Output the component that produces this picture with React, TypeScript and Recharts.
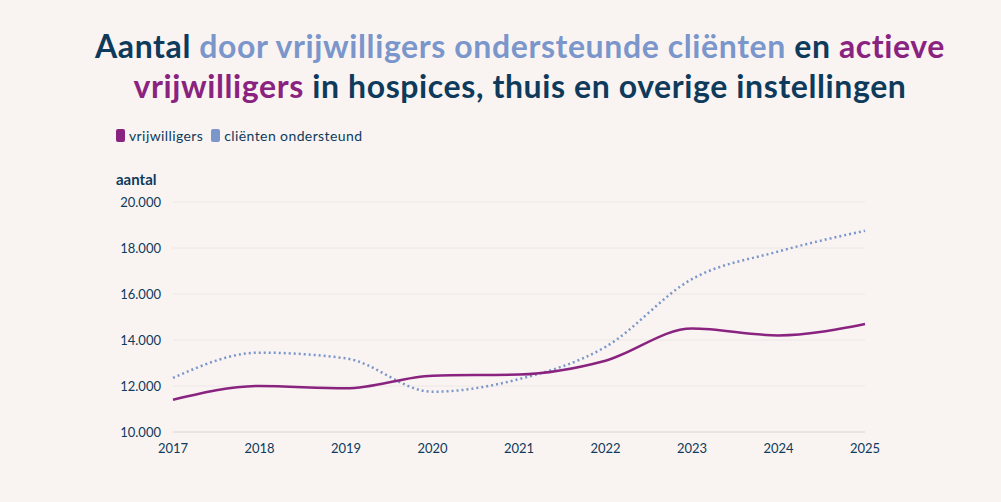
import { CartesianGrid, Line, LineChart, XAxis, YAxis } from 'recharts'

const NAVY = '#0e3a5c'
const BLUE = '#7b96cb'
const PURPLE = '#8a2380'
const BG = '#f9f4f2'
const FONT = 'Lato, "Open Sans", sans-serif'

const years = ['2017', '2018', '2019', '2020', '2021', '2022', '2023', '2024', '2025']
const vrijwilligers = [11400, 12000, 11900, 12450, 12500, 13100, 14500, 14200, 14700]
const clienten = [12350, 13450, 13200, 11750, 12300, 13700, 16650, 17850, 18750]
const yTicks = [10000, 12000, 14000, 16000, 18000, 20000]

const data = years.map((year, i) => ({
  year,
  vrijwilligers: vrijwilligers[i],
  clienten: clienten[i],
}))

const label = (v: number) => `${Math.floor(v / 1000)}.${String(v % 1000).padStart(3, '0')}`

export default function App() {
  return (
    <div style={{ position: 'absolute', left: 0, top: 0, width: 1001, height: 502, background: BG, fontFamily: FONT }}>
      <div
        style={{
          position: 'absolute', left: 20, width: 1000, top: 26, textAlign: 'center',
          fontSize: 32, fontWeight: 700, lineHeight: '40px', color: NAVY, letterSpacing: 0.6,
        }}
      >
        Aantal <span style={{ color: BLUE }}>door vrijwilligers ondersteunde cliënten</span> en{' '}
        <span style={{ color: PURPLE }}>actieve</span>
        <br />
        <span style={{ color: PURPLE }}>vrijwilligers</span> in hospices, thuis en overige instellingen
      </div>
      <div style={{ position: 'absolute', left: 116, top: 127, fontSize: 14, color: NAVY, display: 'flex', alignItems: 'center', letterSpacing: 0.4 }}>
        <span style={{ width: 9, height: 13, background: PURPLE, borderRadius: 2, marginRight: 4 }} />
        vrijwilligers
        <span style={{ width: 9, height: 13, background: BLUE, borderRadius: 2, margin: '0 4px 0 8px' }} />
        cliënten ondersteund
      </div>
      <div style={{ position: 'absolute', left: 116, top: 170, fontSize: 15, fontWeight: 700, color: NAVY }}>aantal</div>
      <LineChart
        width={1001}
        height={502}
        data={data}
        margin={{ top: 202, right: 136, bottom: 40, left: 113 }}
        style={{ position: 'absolute', left: 0, top: 0 }}
      >
        <CartesianGrid vertical={false} stroke="#ece6e4" />
        <XAxis
          dataKey="year"
          height={30}
          axisLine={{ stroke: '#e0dada' }}
          tickLine={false}
          tick={{ fill: NAVY, fontSize: 13, fontFamily: FONT }}
          tickMargin={6}
        />
        <YAxis
          width={60}
          domain={[10000, 20000]}
          ticks={yTicks}
          tickFormatter={label}
          axisLine={false}
          tickLine={false}
          tick={{ fill: NAVY, fontSize: 13, fontFamily: FONT }}
          tickMargin={6}
        />
        <Line
          type="monotone"
          dataKey="clienten"
          stroke={BLUE}
          strokeWidth={2.5}
          strokeDasharray="2 3"
          dot={false}
          isAnimationActive={false}
        />
        <Line
          type="monotone"
          dataKey="vrijwilligers"
          stroke={PURPLE}
          strokeWidth={2.5}
          dot={false}
          isAnimationActive={false}
        />
      </LineChart>
    </div>
  )
}
